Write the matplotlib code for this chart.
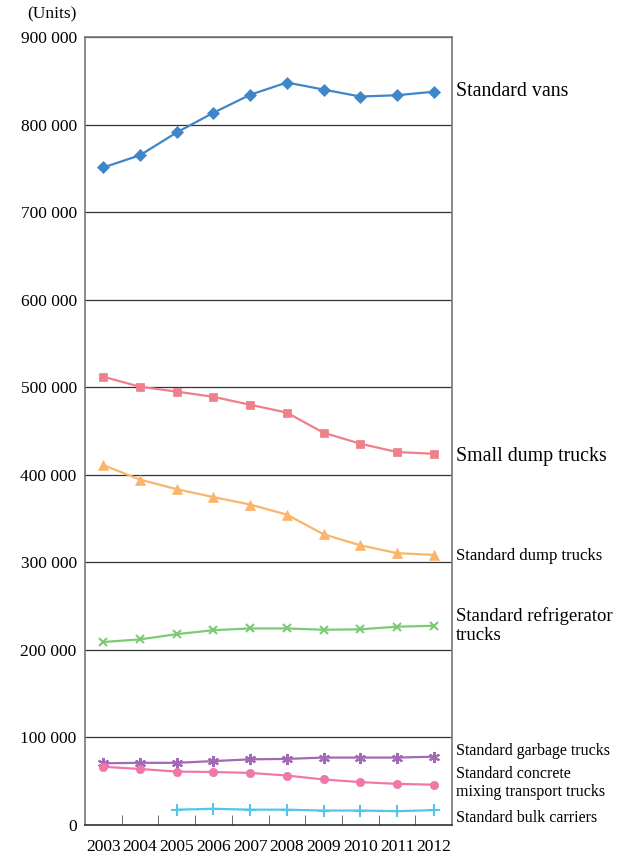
import numpy as np
import matplotlib
matplotlib.use("Agg")
import matplotlib.pyplot as plt
from matplotlib.ticker import FuncFormatter, FixedLocator

plt.rcParams['font.family'] = ['Liberation Serif', 'DejaVu Serif']

#data
years = ['2003', '2004', '2005', '2006', '2007', '2008', '2009', '2010', '2011', '2012']
vans = [751000, 765000, 791000, 813500, 834000, 848000, 840000, 832000, 833500, 837500]
small_dump = [512000, 500500, 495000, 489000, 480000, 471000, 448000, 435500, 426000, 424000]
std_dump = [411000, 394500, 383500, 374500, 366000, 354500, 332000, 319500, 310500, 308500]
fridge = [209000, 212000, 218000, 222500, 224500, 224500, 223000, 223500, 226500, 227500]
garbage = [70500, 71000, 71000, 73000, 75000, 75500, 77000, 77000, 77000, 78000]
concrete = [66500, 64000, 61000, 60500, 59500, 56500, 52000, 49000, 47000, 46000]
bulk = [np.nan, np.nan, 17500, 18500, 17500, 17500, 16500, 16500, 15800, 17000]

x = np.arange(len(years))

fig = plt.figure(figsize=(6.22, 8.58), dpi=100)
ax = fig.add_axes([85/622, 33/858, 367/622, 788/858])

series = [
    (vans, '#3f86c8', 'D', 6),
    (small_dump, '#ef7f88', 's', 6),
    (std_dump, '#fbb56a', '^', 7),
    (fridge, '#7ccb74', 'x', 6),
    (garbage, '#a26ab4', (6, 2, 0), 8),
    (concrete, '#ef78aa', 'o', 6),
    (bulk, '#55c3ec', '+', 9),
]
for vals, col, mk, ms in series:
    ax.plot(x, vals, color=col, marker=mk, markersize=ms, linewidth=1.6,
            markeredgewidth=1.5 if mk in ('x', '+', (6, 2, 0)) else 0.5,
            markeredgecolor=col, clip_on=False)

ax.set_xlim(-0.5, 9.5)
ax.set_ylim(0, 900000)
ax.yaxis.set_major_locator(FixedLocator(np.arange(0, 900001, 100000)))
ax.yaxis.set_major_formatter(FuncFormatter(lambda v, p: '0' if v == 0 else '{:,}'.format(int(v)).replace(',', ' ')))
ax.grid(axis='y', color='#333333', linewidth=0.9)
ax.set_axisbelow(True)
ax.set_xticks(x)
ax.set_xticklabels(years)
ax.set_xticks(np.arange(0.5, 9, 1), minor=True)
ax.tick_params(axis='x', which='major', length=0, labelsize=12.5, pad=10)
ax.tick_params(axis='x', which='minor', direction='in', length=7, color='#555555')
ax.tick_params(axis='y', length=0, labelsize=12.5, pad=6)
for s in ax.spines.values():
    s.set_color('#777777')
    s.set_linewidth(1.2)
ax.spines['bottom'].set_color('#333333')

fig.text(77/622, 1 - 14/858, '(Units)', ha='right', va='center', fontsize=12.5)

#series labels on the right
tr = ax.get_yaxis_transform()
labels = [
    ('Standard vans', 838000, 14.3),
    ('Small dump trucks', 421000, 14.3),
    ('Standard dump trucks', 307000, 12),
    ('Standard refrigerator\ntrucks', 228000, 13.5),
    ('Standard garbage trucks', 84000, 11.5),
    ('Standard concrete\nmixing transport trucks', 48000, 11.5),
    ('Standard bulk carriers', 8000, 11.5),
]
for txt, yv, fs in labels:
    ax.text(1.01, yv, txt, transform=tr, ha='left', va='center', fontsize=fs,
            linespacing=1.15)

fig.savefig('out.png', dpi=100)
